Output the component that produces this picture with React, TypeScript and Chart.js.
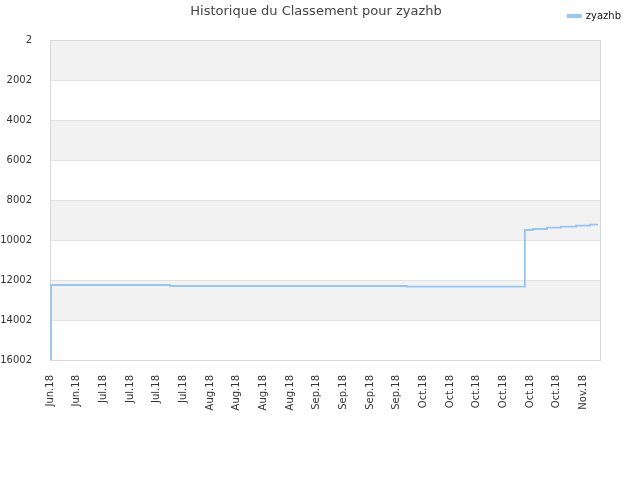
import { useEffect, useRef } from "react";
import Chart from "chart.js/auto";

// x-axis tick labels (one per tick)
const tickLabels = [
  "Jun.18", "Jun.18", "Jul.18", "Jul.18", "Jul.18", "Jul.18", "Aug.18",
  "Aug.18", "Aug.18", "Aug.18", "Sep.18", "Sep.18", "Sep.18", "Sep.18",
  "Oct.18", "Oct.18", "Oct.18", "Oct.18", "Oct.18", "Oct.18", "Nov.18",
];
// where the ranking changed, in tick units along the x-axis
const changePositions = [0, 0.04, 4.5, 13.38, 17.81, 18.11, 18.64, 19.16, 19.73, 20.25, 20.55];
// ranking from that position on
const ranks = [16002, 12252, 12302, 12335, 9502, 9452, 9385, 9335, 9285, 9235, 9235];
const rankTicks = [2, 2002, 4002, 6002, 8002, 10002, 12002, 14002, 16002];

const FONT = "'DejaVu Sans', Verdana, sans-serif";

const bandsPlugin = {
  id: "bands",
  beforeDatasetsDraw(chart: any) {
    const { ctx, chartArea } = chart;
    const y = chart.scales.y;
    ctx.save();
    for (let i = 0; i < rankTicks.length - 1; i += 2) {
      const a = y.getPixelForValue(rankTicks[i]);
      const b = y.getPixelForValue(rankTicks[i + 1]);
      ctx.fillStyle = "#f2f2f2";
      ctx.fillRect(chartArea.left, a, chartArea.right - chartArea.left, b - a);
    }
    ctx.strokeStyle = "#e2e2e2";
    ctx.lineWidth = 1;
    rankTicks.forEach((v) => {
      const p = Math.round(y.getPixelForValue(v)) + 0.5;
      ctx.beginPath();
      ctx.moveTo(chartArea.left, p);
      ctx.lineTo(chartArea.right, p);
      ctx.stroke();
    });
    ctx.strokeStyle = "#d8d8d8";
    ctx.strokeRect(
      Math.round(chartArea.left) + 0.5,
      Math.round(chartArea.top) + 0.5,
      Math.round(chartArea.right - chartArea.left),
      Math.round(chartArea.bottom - chartArea.top)
    );
    ctx.restore();
  },
};

const RankChart = () => {
  const canvasRef = useRef<HTMLCanvasElement | null>(null);

  useEffect(() => {
    if (!canvasRef.current) return;

    const chart = new Chart(canvasRef.current, {
      type: "line",
      data: {
        datasets: [
          {
            label: "zyazhb",
            data: changePositions.map((x, i) => ({ x, y: ranks[i] })),
            borderColor: "#97c6f2",
            backgroundColor: "#97c6f2",
            borderWidth: 1.8,
            stepped: "before",
            pointRadius: 0,
            fill: false,
          },
        ],
      },
      options: {
        responsive: false,
        animation: false,
        layout: { padding: { left: 0, right: 8, top: 0, bottom: 0 } },
        plugins: {
          // legend sits above the title box, title is pulled up onto the same line
          legend: {
            position: "top",
            align: "end",
            weight: 3000,
            labels: {
              color: "#111",
              font: { family: FONT, size: 10 },
              boxWidth: 13,
              boxHeight: 2,
              padding: 11,
            },
          },
          title: {
            display: true,
            text: "Historique du Classement pour zyazhb",
            color: "#444",
            font: { family: FONT, size: 13, weight: "normal" },
            padding: { top: -26.8, bottom: 20.2 },
          },
          tooltip: { enabled: false },
        },
        scales: {
          x: {
            type: "linear",
            min: 0,
            max: 20.625,
            afterBuildTicks: (scale: any) => {
              scale.ticks = tickLabels.map((_, i) => ({ value: i }));
            },
            afterFit: (scale: any) => {
              scale.height = 120;
            },
            grid: { display: false },
            border: { display: false },
            ticks: {
              autoSkip: false,
              minRotation: 90,
              maxRotation: 90,
              padding: 7,
              color: "#333",
              font: { family: FONT, size: 10 },
              callback: (v: any) => tickLabels[Math.round(Number(v))] ?? "",
            },
          },
          y: {
            type: "linear",
            reverse: true,
            min: 2,
            max: 16002,
            afterBuildTicks: (scale: any) => {
              scale.ticks = rankTicks.map((v) => ({ value: v }));
            },
            afterFit: (scale: any) => {
              scale.width = 50;
            },
            grid: { display: false },
            border: { display: false },
            ticks: {
              padding: 10,
              color: "#333",
              font: { family: FONT, size: 10 },
              callback: (v: any) => String(v),
            },
          },
          // empty spacer on the right so the plot ends at x=600
          yRight: {
            type: "linear",
            position: "right",
            afterFit: (scale: any) => {
              scale.width = 32;
            },
            grid: { display: false },
            border: { display: false },
            ticks: { display: false },
          },
        },
      },
      plugins: [bandsPlugin],
    });

    return () => {
      chart.destroy();
    };
  }, []);

  return (
    <div style={{ position: "absolute", left: 0, top: 0, width: 640, height: 480, background: "#fff" }}>
      <canvas ref={canvasRef} width={640} height={480} />
    </div>
  );
};

export default function App() {
  return <RankChart />;
}
